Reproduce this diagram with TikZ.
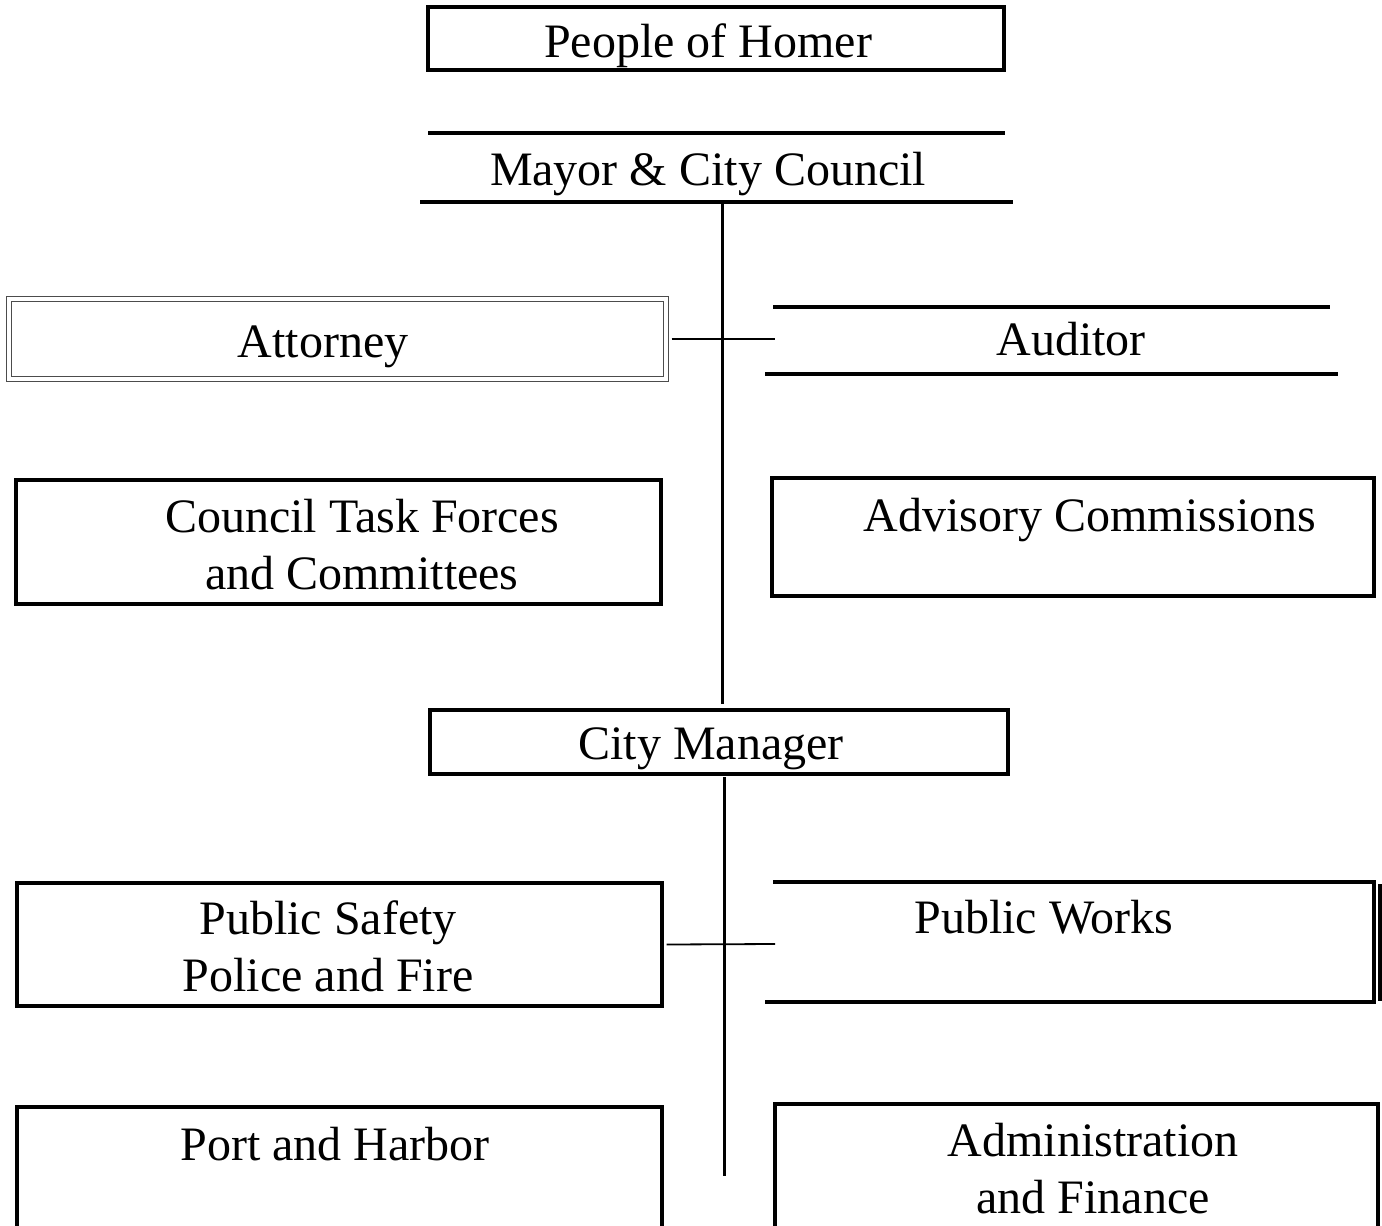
\documentclass[tikz,border=0pt]{standalone}
\usepackage{fontspec}
\setmainfont{Liberation Serif}
\usetikzlibrary{fit}
\tikzstyle{unitbox}=[draw, line width=1.6pt, inner sep=0pt]
\tikzstyle{twinbox}=[draw=black!70, double, double distance=1.6pt, line width=0.6pt, inner sep=0pt]
\tikzstyle{unitname}=[font=\fontsize{24}{28.5}\selectfont, align=center, inner sep=0pt, anchor=base]
\tikzstyle{rule}=[line width=1.6pt]
\tikzstyle{trunk}=[line width=1.5pt]
\tikzstyle{branch}=[line width=0.9pt]
\newcommand{\unitbox}{\node[unitbox]}
\newcommand{\unitname}{\node[unitname]}

\begin{document}
\begin{tikzpicture}[x=0.5pt,y=-0.5pt]
\useasboundingbox (0,0) rectangle (1382,1226);
% people and council
\unitbox (homer) [fit={(428,7) (1004,70)}] {};
\unitname (homertext) at (708,57) {People of Homer};
\draw[rule] (428,133) -- (1005,133);
\draw[rule] (420,202) -- (1013,202);
\unitname (mayor) at (708,185) {Mayor \& City Council};
\coordinate (mayorfoot) at (722,202);
\coordinate (mayorstem) at (722,704);
\draw[trunk] (mayorfoot) -- (mayorstem);
% attorney and auditor
\node[twinbox] (attorney) [fit={(9,299) (666,379)}] {};
\unitname (attorneytext) at (323,357) {Attorney};
\draw[rule] (773,307) -- (1330,307);
\draw[rule] (765,374) -- (1338,374);
\unitname (auditor) at (1071,355) {Auditor};
\coordinate (auditorend) at (775,339);
\draw[branch] ([xshift=2.5pt]attorney.east) -- (auditorend);
% task forces and commissions (base = last line)
\unitbox (council) [fit={(16,480) (661,604)}] {};
\unitname (counciltext) at (362,589) {Council Task Forces\\and Committees};
\unitbox (advisory) [fit={(772,478) (1374,596)}] {};
\unitname (advisorytext) at (1090,531) {Advisory Commissions};
% manager
\unitbox (manager) [fit={(430,710) (1008,774)}] {};
\unitname (managertext) at (711,759) {City Manager};
\coordinate (managerfoot) at (724,777);
\coordinate (managerstem) at (724,1176);
\draw[trunk] (managerfoot) -- (managerstem);
% departments
\unitbox (safety) [fit={(17,883) (662,1006)}] {};
\unitname (safetytext) at (328,991) {Public Safety\\Police and Fire};
\draw[rule] (773,882) -- (1374,882) -- (1374,1002) -- (765,1002);
\draw[rule] (1380,884) -- (1380,1001);
\unitname (works) at (1044,933) {Public Works};
\coordinate (worksend) at (775,944);
\draw[branch] ([xshift=1.5pt]safety.east) -- (worksend);
\unitbox (port) [fit={(17,1107) (662,1236)}] {};
\unitname (porttext) at (335,1160) {Port and Harbor};
\unitbox (admin) [fit={(775,1104) (1378,1236)}] {};
\unitname (admintext) at (1093,1213) {Administration\\and Finance};
\end{tikzpicture}
\end{document}
